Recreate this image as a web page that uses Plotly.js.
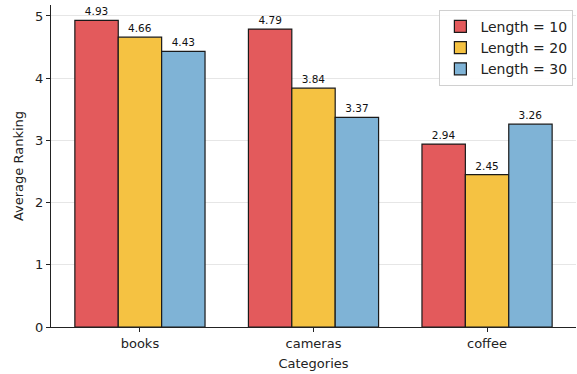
<!DOCTYPE html>
<html>
<head>
<meta charset="utf-8">
<script src="https://cdn.plot.ly/plotly-3.0.1.min.js"></script>
<style>html,body{margin:0;padding:0;background:#fff}#chart{width:577px;height:374px}</style>
</head>
<body>
<div id="chart"></div>
<script>
const categories = ["books", "cameras", "coffee"];
const seriesNames = ["Length = 10", "Length = 20", "Length = 30"];
const len10 = [4.93, 4.79, 2.94];
const len20 = [4.66, 3.84, 2.45];
const len30 = [4.43, 3.37, 3.26];
const colors = ["#e35a5c", "#f5c242", "#7fb3d6"];

const values = [len10, len20, len30];
const font = "DejaVu Sans, sans-serif";

const traces = values.map((v, i) => ({
  type: "bar",
  name: seriesNames[i],
  x: categories,
  y: v,
  marker: {color: colors[i], line: {color: "#1a1a1a", width: 1.2}},
  text: v.map(d => d.toFixed(2)),
  textposition: "outside",
  textfont: {family: font, size: 10.5, color: "#111"},
  cliponaxis: false
}));

const layout = {
  width: 577, height: 374,
  margin: {l: 51, r: 1, t: 5, b: 47},
  paper_bgcolor: "#fff", plot_bgcolor: "#fff",
  barmode: "group", bargap: 0.25, bargroupgap: 0,
  font: {family: font, size: 13, color: "#222"},
  xaxis: {
    type: "category",
    range: [-0.5125, 2.5125],
    showline: true, linecolor: "#222", linewidth: 1.2,
    ticks: "outside", ticklen: 4, tickcolor: "#222",
    tickfont: {family: font, size: 13, color: "#222"},
    showgrid: false, zeroline: false,
    title: {text: "Categories", font: {family: font, size: 13, color: "#222"}, standoff: 9}
  },
  yaxis: {
    range: [0, 5.1765],
    dtick: 1,
    showline: true, linecolor: "#222", linewidth: 1.2,
    ticks: "outside", ticklen: 4, tickcolor: "#222",
    tickfont: {family: font, size: 13, color: "#222"},
    showgrid: true, gridcolor: "#e6e6e6", gridwidth: 1,
    zeroline: false,
    title: {text: "Average Ranking", font: {family: font, size: 13, color: "#222"}, standoff: 8}
  },
  legend: {
    x: 0.995, y: 0.985, xanchor: "right", yanchor: "top",
    bgcolor: "rgba(255,255,255,0.9)", bordercolor: "#d0d0d0", borderwidth: 1,
    font: {family: font, size: 14, color: "#222"},
    tracegroupgap: 0
  },
  showlegend: true
};

Plotly.newPlot("chart", traces, layout, {displayModeBar: false, staticPlot: true});
</script>
</body>
</html>
